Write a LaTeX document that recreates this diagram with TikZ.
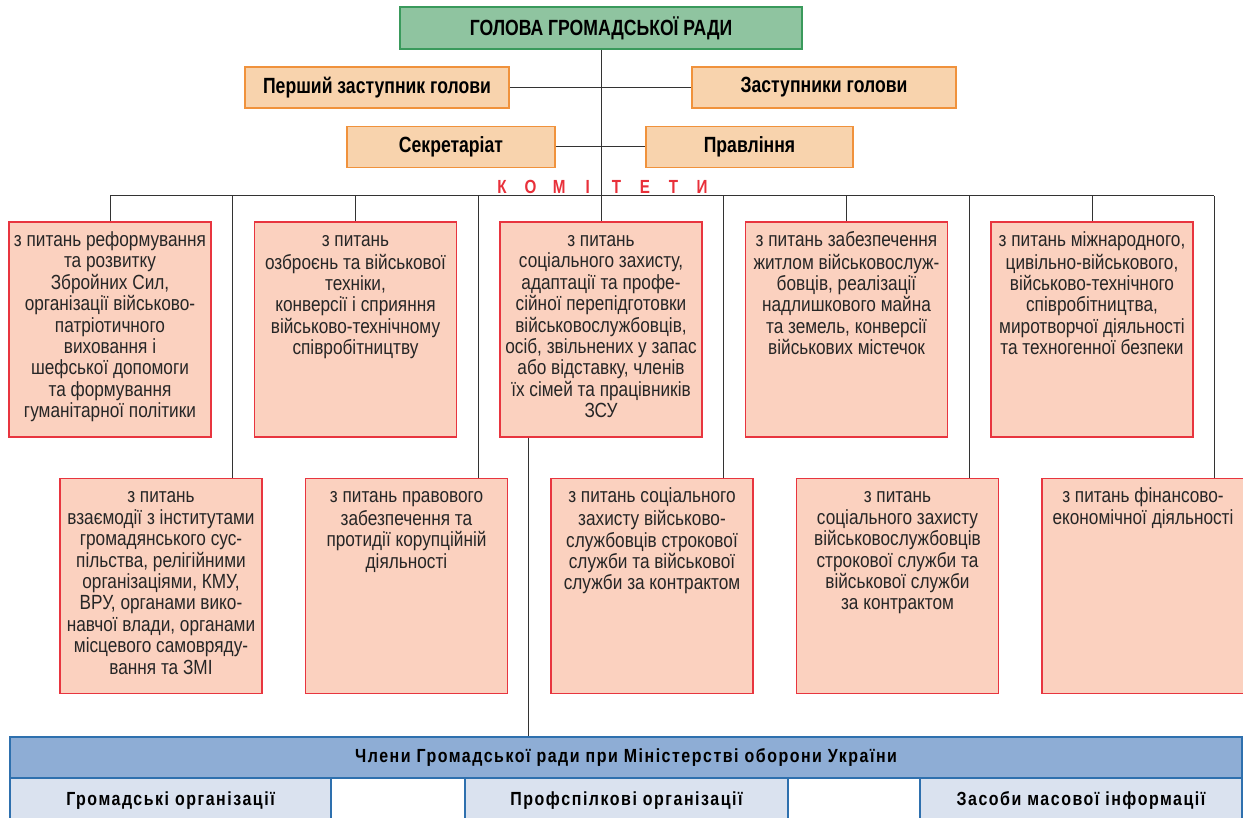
\documentclass[tikz,border=0pt]{standalone}
\usepackage{fontspec}
\setmainfont{Liberation Sans}[FakeStretch=0.84,BoldFeatures={FakeStretch=0.8}]
\newfontfamily\bandfont{Liberation Sans}[FakeStretch=0.84,LetterSpace=8]
\usetikzlibrary{calc,positioning}

\definecolor{hdgreen}{HTML}{8FC4A0}
\definecolor{hdgreenline}{HTML}{3A9A5C}
\definecolor{deporange}{HTML}{F8D3AD}
\definecolor{deporangeline}{HTML}{F0923C}
\definecolor{komfill}{HTML}{FBD1BF}
\definecolor{komline}{HTML}{E8353F}
\definecolor{komred}{HTML}{E8303A}
\definecolor{bandblue}{HTML}{8EADD5}
\definecolor{bandline}{HTML}{2E70AE}
\definecolor{cellblue}{HTML}{DAE2EF}
\definecolor{lineclr}{HTML}{333333}

\tikzset{
  headbox/.style={draw=hdgreenline, fill=hdgreen, line width=1.3pt, minimum width=402pt, minimum height=42pt, font=\fontsize{22}{24}\selectfont\bfseries},
  depbox/.style={draw=deporangeline, fill=deporange, line width=1.3pt, minimum height=41pt, font=\fontsize{22}{24}\selectfont\bfseries},
  kombox/.style={draw=komline, fill=komfill, line width=1.2pt, inner xsep=2pt, inner ysep=9.5pt, minimum width=202pt, minimum height=215pt, font=\fontsize{20.5}{21.4}\selectfont, text=black!85},
  komletter/.style={text=komred, font=\fontsize{19}{20}\selectfont\bfseries},
  bandbox/.style={draw=bandline, fill=bandblue, line width=1.2pt, minimum width=1232pt, minimum height=41pt, font=\bandfont\fontsize{19}{20}\selectfont\bfseries},
  cellbox/.style={draw=bandline, fill=cellblue, line width=1.2pt, minimum height=46pt, font=\bandfont\fontsize{19}{20}\selectfont\bfseries},
  conn/.style={draw=lineclr, line width=1pt}
}
\newcommand{\komtext}[1]{\parbox[c][196pt][t]{198pt}{\centering\strut#1}}

\begin{document}
\begin{tikzpicture}[x=1pt,y=-1pt]
\useasboundingbox (0,0) rectangle (1243,818);
\clip (0,0) rectangle (1243,818);

%head of the council
\node[headbox] (head) at (601,28) {ГОЛОВА ГРОМАДСЬКОЇ РАДИ};
\node[depbox, minimum width=264pt] (dep1) at (377,87.5) {Перший заступник голови};
\node[depbox, minimum width=264pt] (dep2) at (824,87.5) {Заступники голови};
\node[depbox, minimum width=208pt] (sec) at (451,147) {Секретаріат};
\node[depbox, minimum width=207pt] (prav) at (749.5,147) {Правління};

%committees label
\foreach \l [count=\i] in {К,О,М,І,Т,Е,Т,И}
  \node[komletter] (k\i) at (502+28.6*\i-28.6,186.5) {\l};

%first row of committees
\node[kombox] (c1) at (110,329.5) {\komtext{з питань реформування\\ та розвитку\\ Збройних Сил,\\ організації військово-\\ патріотичного\\ виховання і\\ шефської допомоги\\ та формування\\ гуманітарної політики}};
\node[kombox] (c2) at (355.5,329.5) {\komtext{з питань\\ озброєнь та військової\\ техніки,\\ конверсії і сприяння\\ військово-технічному\\ співробітництву}};
\node[kombox] (c3) at (601,329.5) {\komtext{з питань\\ соціального захисту,\\ адаптації та профе-\\ сійної перепідготовки\\ військовослужбовців,\\ осіб, звільнених у запас\\ або відставку, членів\\ їх сімей та працівників\\ ЗСУ}};
\node[kombox] (c4) at (846.5,329.5) {\komtext{з питань забезпечення\\ житлом військовослуж-\\ бовців, реалізації\\ надлишкового майна\\ та земель, конверсії\\ військових містечок}};
\node[kombox] (c5) at (1092,329.5) {\komtext{з питань міжнародного,\\ цивільно-військового,\\ військово-технічного\\ співробітництва,\\ миротворчої діяльності\\ та техногенної безпеки}};

%second row of committees
\node[kombox] (c6) at (161,586) {\komtext{з питань\\ взаємодії з інститутами\\ громадянського сус-\\ пільства, релігійними\\ організаціями, КМУ,\\ ВРУ, органами вико-\\ навчої влади, органами\\ місцевого самовряду-\\ вання та ЗМІ}};
\node[kombox] (c7) at (406.5,586) {\komtext{з питань правового\\ забезпечення та\\ протидії корупційній\\ діяльності}};
\node[kombox] (c8) at (652,586) {\komtext{з питань соціального\\ захисту військово-\\ службовців строкової\\ служби та військової\\ служби за контрактом}};
\node[kombox] (c9) at (897.5,586) {\komtext{з питань\\ соціального захисту\\ військовослужбовців\\ строкової служби та\\ військової служби\\ за контрактом}};
\node[kombox] (c10) at (1143,586) {\komtext{з питань фінансово-\\ економічної діяльності}};

%members
\node[bandbox] (band) at (626,757.5) {Члени Громадської ради при Міністерстві оборони України};
\node[cellbox, minimum width=321pt] (g1) at (170.5,801) {Громадські організації};
\node[cellbox, minimum width=323pt] (g2) at (626.5,801) {Профспілкові організації};
\node[cellbox, minimum width=322pt] (g3) at (1081,801) {Засоби масової інформації};

%connectors
\coordinate (busL) at (110,196);
\coordinate (busR) at (1213.5,196);
\draw[conn] (head.south) -- (c3.north);
\draw[conn] (dep1.east) -- (dep2.west);
\draw[conn] (sec.east) -- (prav.west);
\draw[conn] (busL) -- (busR);
\foreach \i in {1,2,4,5}
  \draw[conn] (c\i.north) -- (c\i.north |- busL);
\foreach \i in {6,...,10}
  \draw[conn] ([xshift=71.5pt]c\i.north) -- ([xshift=71.5pt]c\i.north |- busL);
\draw[conn] ([xshift=-72.5pt]c3.south) -- ([xshift=-72.5pt]c3.south |- band.north);
\end{tikzpicture}
\end{document}
